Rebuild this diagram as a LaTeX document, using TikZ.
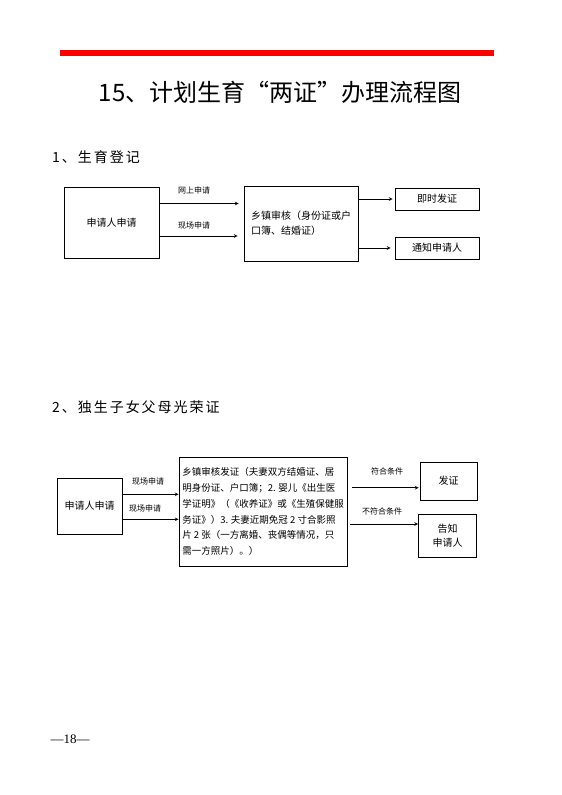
\documentclass[tikz,border=0pt]{standalone}
\usepackage{fontspec}
\setmainfont{Liberation Serif}
\newfontfamily\cjk{Noto Sans CJK SC}
\newfontfamily\cjkwide[LetterSpace=14]{Noto Sans CJK SC}
\begin{document}
\begin{tikzpicture}[>=stealth, x=1pt, y=-1pt,
	box/.style={draw, line width=0.8pt, inner sep=0pt, font=\cjk\fontsize{10}{15}\selectfont},
	lab/.style={inner sep=0pt, font=\cjk\fontsize{8}{10}\selectfont},
	arr/.style={->, line width=0.7pt}]
				\useasboundingbox (0,0) rectangle (562,795);
				% header
				\draw[red, line width=5.5pt] (60,53) -- (494,53);
				\node[inner sep=0pt, font=\cjk\fontsize{24}{28}\selectfont] (title) at (280,92) {15、计划生育“两证”办理流程图};
				% 1. birth registration
				\node[anchor=west, inner sep=0pt, font=\cjkwide\fontsize{14}{16}\selectfont] (headA) at (52,157) {1、生育登记};
				\node[box, minimum width=95, minimum height=71] (applyA) at (111.5,222.5) {申请人申请};
				\node[box, minimum width=114, minimum height=75, align=left] (auditA) at (301,223.5) {乡镇审核（身份证或户\\口簿、结婚证）};
				\node[box, minimum width=84, minimum height=22] (issueA) at (437,199) {即时发证};
				\node[box, minimum width=84, minimum height=22] (notifyA) at (437,248) {通知申请人};
				\node[lab] (onlineA) at (194,190) {网上申请};
				\node[lab] (siteA) at (194,225) {现场申请};
				\coordinate (oA) at ([yshift=19pt]applyA.east);
				\coordinate (sA) at ([yshift=-13.5pt]applyA.east);
				\draw[arr, shorten >=5pt] (oA) -- (oA -| auditA.west);
				\draw[arr, shorten >=6pt] (sA) -- (sA -| auditA.west);
				\draw[arr, shorten >=2pt] (auditA.east |- issueA.west) -- (issueA.west);
				\draw[arr, shorten >=4pt] (auditA.east |- notifyA.west) -- (notifyA.west);
				% 2. honour certificate
				\node[anchor=west, inner sep=0pt, font=\cjkwide\fontsize{14}{16}\selectfont] (headB) at (52,407) {2、独生子女父母光荣证};
				\node[box, minimum width=65, minimum height=56] (applyB) at (89.5,506) {申请人申请};
				\node[box, minimum width=168, minimum height=109, align=left, font=\cjk\fontsize{9.5}{15.8}\selectfont] (auditB) at (263,511.5)
					{乡镇审核发证（夫妻双方结婚证、居\\明身份证、户口簿；2. 婴儿《出生医\\学证明》（《收养证》或《生殖保健服\\务证》）3. 夫妻近期免冠 2 寸合影照\\片 2 张（一方离婚、丧偶等情况，只\\需一方照片）。）};
				\node[box, minimum width=57, minimum height=38] (issueB) at (448.5,481) {发证};
				\node[box, minimum width=58, minimum height=43, align=center, font=\cjk\fontsize{10}{14}\selectfont] (notifyB) at (447.5,535.5) {告知\\申请人};
				\node[lab] (siteB) at (148,481) {现场申请};
				\node[lab] (siteC) at (145,508) {现场申请};
				\node[lab] (okB) at (387,471) {符合条件};
				\node[lab] (noB) at (382,511) {不符合条件};
				\coordinate (sB) at ([yshift=11.7pt]applyB.east);
				\coordinate (sC) at ([yshift=-13.3pt]applyB.east);
				\coordinate (gB) at ([yshift=23.8pt]auditB.east);
				\coordinate (hB) at ([yshift=-12.5pt]auditB.east);
				\draw[arr] (sB) -- (sB -| auditB.west);
				\draw[arr] (sC) -- (sC -| auditB.west);
				\draw[arr, shorten <=4.5pt, shorten >=1pt] (gB) -- (gB -| issueB.west);
				\draw[arr, shorten <=3pt] (hB) -- (hB -| notifyB.west);
				% page number
				\node[inner sep=0pt, font=\fontsize{13}{15}\selectfont] (page) at (70,739) {—18—};
\end{tikzpicture}
\end{document}
